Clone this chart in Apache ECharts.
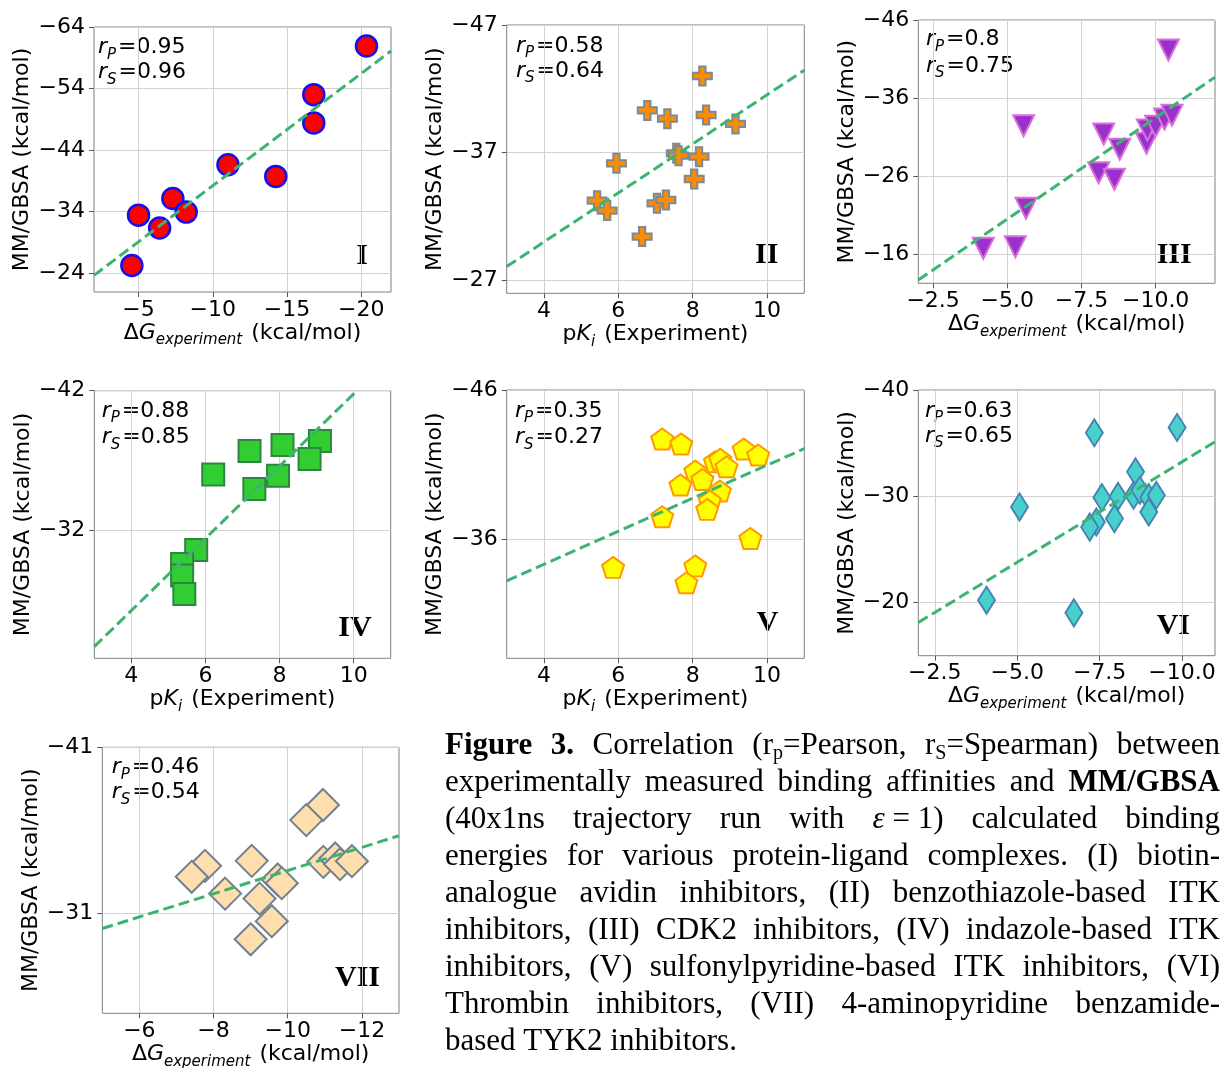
<!DOCTYPE html>
<html><head><meta charset="utf-8">
<script src="https://cdn.jsdelivr.net/npm/echarts@6/dist/echarts.min.js"></script>
<style>html,body{margin:0;padding:0;background:#fff}#c{width:1221px;height:1068px}</style>
</head><body><div id="c"></div>
<script>
// ================= DATA =================
const panelIds = ['I','II','III','IV','V','VI','VII'];
const corrP = ['0.95','0.58','0.8','0.88','0.35','0.63','0.46'];
const corrS = ['0.96','0.64','0.75','0.85','0.27','0.65','0.54'];

const xI = [-4.55, -5.0, -6.42, -7.31, -8.21, -11.02, -14.24, -16.8, -16.8, -20.35];
const yI = [-25.2, -33.4, -31.3, -36.1, -33.9, -41.6, -39.7, -53.0, -48.4, -60.9];
const fitXI = [-2, -22], fitYI = [-23.6, -60.1];
const xTicksI = [-5, -10, -15, -20], yTicksI = [-64, -54, -44, -34, -24];
const xRangeI = [-22, -2], yRangeI = [-64, -20.9];

const xII = [8.26, 6.78, 7.32, 8.36, 9.15, 7.56, 7.62, 8.17, 5.95, 8.04, 5.43, 5.70, 7.04, 7.28, 6.64];
const yII = [-43.0, -40.3, -39.65, -39.94, -39.24, -36.93, -36.75, -36.67, -36.15, -34.92, -33.22, -32.44, -33.01, -33.27, -30.4];
const fitXII = [3, 11], fitYII = [-28.05, -43.45];
const xTicksII = [4, 6, 8, 10], yTicksII = [-47, -37, -27];
const xRangeII = [3, 11], yRangeII = [-47, -25.95];

const xIII = [-10.43, -5.55, -8.25, -8.79, -9.69, -9.72, -10.0, -10.3, -10.55, -8.08, -8.61, -5.63, -4.19, -5.27];
const yIII = [-42.15, -32.45, -31.38, -29.42, -30.19, -31.9, -32.37, -33.3, -33.8, -26.42, -25.58, -21.85, -16.73, -16.94];
const fitXIII = [-2, -12], fitYIII = [-12.67, -38.67];
const xTicksIII = [-2.5, -5, -7.5, -10], yTicksIII = [-46, -36, -26, -16];
const xRangeIII = [-12, -2], yRangeIII = [-46, -12.24];

const xIV = [9.09, 8.81, 8.08, 7.19, 6.21, 7.96, 7.32, 5.75, 5.37, 5.37, 5.43];
const yIV = [-38.4, -37.12, -38.12, -37.69, -36.02, -35.93, -34.98, -30.62, -29.62, -28.79, -27.48];
const fitXIV = [3, 10.09], fitYIV = [-23.71, -42];
const xTicksIV = [4, 6, 8, 10], yTicksIV = [-42, -32];
const xRangeIV = [3, 11], yRangeIV = [-42, -22.88];

const xV = [7.18, 7.69, 9.37, 9.76, 8.60, 8.74, 8.91, 8.07, 8.26, 7.67, 8.73, 8.46, 8.39, 7.18, 9.55, 5.86, 8.07, 7.83];
const yV = [-42.71, -42.38, -42.04, -41.64, -41.19, -41.35, -40.85, -40.56, -40.0, -39.62, -39.22, -38.55, -37.99, -37.5, -36.04, -34.1, -34.2, -33.07];
const fitXV = [3, 11], fitYV = [-33.2, -42.06];
const xTicksV = [4, 6, 8, 10], yTicksV = [-46, -36];
const xRangeV = [3, 11], yRangeV = [-46, -28.0];

const xVI = [-7.34, -9.85, -8.59, -5.07, -7.57, -8.06, -8.53, -8.72, -8.99, -9.22, -8.99, -7.95, -7.4, -7.2, -4.07, -6.72];
const yVI = [-35.97, -36.48, -32.3, -29.0, -29.88, -30.0, -30.09, -30.57, -29.88, -30.09, -28.52, -27.9, -27.58, -27.1, -20.22, -19.03];
const fitXVI = [-2, -11], fitYVI = [-18.12, -35.13];
const xTicksVI = [-2.5, -5, -7.5, -10], yTicksVI = [-40, -30, -20];
const xRangeVI = [-11, -2], yRangeVI = [-40, -15];

const xVII = [-10.95, -10.5, -7.77, -7.41, -9.03, -8.31, -10.96, -11.28, -11.41, -11.73, -9.73, -9.84, -9.24, -9.57, -9.0];
const yVII = [-37.53, -36.62, -33.87, -33.21, -34.17, -32.2, -34.11, -34.31, -33.97, -34.15, -33.05, -32.83, -31.9, -30.54, -29.45];
const fitXVII = [-5, -13], fitYVII = [-30.1, -35.68];
const xTicksVII = [-6, -8, -10, -12], yTicksVII = [-41, -31];
const xRangeVII = [-13, -5], yRangeVII = [-41, -25];

const yTitle = 'MM/GBSA (kcal/mol)';
const xTitleDG = '{n|Δ}{i|G}{s|experiment}{n| (kcal/mol)}';
const xTitlePK = '{n|p}{i|K}{s|i}{n| (Experiment)}';

const captionLines = [
  '*Figure* *3.* Correlation (r_p_=Pearson, r_S_=Spearman) between',
  'experimentally measured binding affinities and *MM/GBSA*',
  '(40x1ns trajectory run with ~ε~\u00a0=\u00a01) calculated binding',
  'energies for various protein-ligand complexes. (I) biotin-',
  'analogue avidin inhibitors, (II) benzothiazole-based ITK',
  'inhibitors, (III) CDK2 inhibitors, (IV) indazole-based ITK',
  'inhibitors, (V) sulfonylpyridine-based ITK inhibitors, (VI)',
  'Thrombin inhibitors, (VII) 4-aminopyridine benzamide-',
  'based TYK2 inhibitors.'
];

const DATA = [
  {x:xI, y:yI, fx:fitXI, fy:fitYI, xt:xTicksI, yt:yTicksI, xr:xRangeI, yr:yRangeI, dec:0, xName:xTitleDG},
  {x:xII, y:yII, fx:fitXII, fy:fitYII, xt:xTicksII, yt:yTicksII, xr:xRangeII, yr:yRangeII, dec:0, xName:xTitlePK},
  {x:xIII, y:yIII, fx:fitXIII, fy:fitYIII, xt:xTicksIII, yt:yTicksIII, xr:xRangeIII, yr:yRangeIII, dec:1, xName:xTitleDG},
  {x:xIV, y:yIV, fx:fitXIV, fy:fitYIV, xt:xTicksIV, yt:yTicksIV, xr:xRangeIV, yr:yRangeIV, dec:0, xName:xTitlePK},
  {x:xV, y:yV, fx:fitXV, fy:fitYV, xt:xTicksV, yt:yTicksV, xr:xRangeV, yr:yRangeV, dec:0, xName:xTitlePK},
  {x:xVI, y:yVI, fx:fitXVI, fy:fitYVI, xt:xTicksVI, yt:yTicksVI, xr:xRangeVI, yr:yRangeVI, dec:1, xName:xTitleDG},
  {x:xVII, y:yVII, fx:fitXVII, fy:fitYVII, xt:xTicksVII, yt:yTicksVII, xr:xRangeVII, yr:yRangeVII, dec:0, xName:xTitleDG}
];

// ================= LAYOUT / STYLE =================
const LAYOUT = [
  {left:94,    top:27,    w:297,   h:265,   rx:98,    ry:[46.7, 71.7],  nx:368,    ny:256.7},
  {left:506.7, top:25,    w:297.6, h:268.3, rx:516,   ry:[45, 70],      nx:778.3,  ny:255},
  {left:918.3, top:20,    w:296.7, h:263.3, rx:926,   ry:[38.3, 65],    nx:1191.7, ny:255},
  {left:94.3,  top:390.7, w:296.4, h:267.6, rx:101.7, ry:[410, 436.7],  nx:371.7,  ny:628.3},
  {left:506.7, top:390,   w:297.6, h:268.3, rx:515,   ry:[410, 436.7],  nx:778.3,  ny:623.3},
  {left:918.3, top:390,   w:296.7, h:265.7, rx:925,   ry:[410, 435],    nx:1190,   ny:626.7},
  {left:102.3, top:747.3, w:296.7, h:266,   rx:111.7, ry:[766.7, 791.7],nx:380,    ny:978.3}
];
const MARKERS = [
  {symbol:'circle', size:21, rot:0, color:'#ff0000', border:'#1010ee', bw:2.5},
  {symbol:'path://M-1,-3H1V-1H3V1H1V3H-1V1H-3V-1H-1Z', size:19, rot:0, color:'#ff8c00', border:'#7a8a99', bw:2},
  {symbol:'triangle', size:[21,21], rot:180, color:'#9932cc', border:'#da70d6', bw:2},
  {symbol:'rect', size:22, rot:0, color:'#32cd32', border:'#2e8540', bw:2},
  {symbol:'path://M0,-1L0.951,-0.309L0.588,0.809L-0.588,0.809L-0.951,-0.309Z', size:[22,21], rot:0, color:'#ffff00', border:'#ff9900', bw:2},
  {symbol:'diamond', size:[17,27], rot:0, color:'#48d1cc', border:'#4682b4', bw:2},
  {symbol:'diamond', size:[32,32], rot:0, color:'#ffdead', border:'#708090', bw:2}
];
const FONT = 'DejaVu Sans';
const SERIF = 'Liberation Serif';
const RICH_DV = {
  n:{fontFamily:FONT, fontSize:22, lineHeight:30, color:'#000'},
  i:{fontFamily:FONT, fontSize:22, lineHeight:30, fontStyle:'italic', color:'#000'},
  s:{fontFamily:FONT, fontSize:15, lineHeight:17, fontStyle:'italic', verticalAlign:'bottom', color:'#000', padding:[0,2,0,0]}
};
const RICH_NUM = {
  r:{fontFamily:SERIF, fontSize:30, fontWeight:'bold', lineHeight:32, color:'#000'}
};
const CAP = {size:31, sub:20, left:445, width:775, base0:756, lh:37};
const RICH_CAP = {
  n:{fontFamily:SERIF, fontSize:CAP.size, lineHeight:37, color:'#000'},
  b:{fontFamily:SERIF, fontSize:CAP.size, lineHeight:37, fontWeight:'bold', color:'#000'},
  i:{fontFamily:SERIF, fontSize:CAP.size, lineHeight:37, fontStyle:'italic', color:'#000'},
  s:{fontFamily:SERIF, fontSize:CAP.sub, lineHeight:20, verticalAlign:'bottom', color:'#000'}
};

function fmt(dec){ return v => (v < 0 ? '\u2212' : '') + Math.abs(v).toFixed(dec); }

const grids = [], xAxes = [], yAxes = [], series = [], graphics = [];
DATA.forEach((d, k) => {
  const L = LAYOUT[k], M = MARKERS[k];
  const xInv = d.xt[0] > d.xt[d.xt.length - 1];
  const yInv = d.yt[0] < d.yt[d.yt.length - 1];
  grids.push({left:L.left, top:L.top, width:L.w, height:L.h, show:true, borderColor:'#808080', borderWidth:1,
    backgroundColor:'transparent', containLabel:false, outerBoundsMode:'none'});
  const common = {
    gridIndex:k, type:'value', axisLine:{show:false},
    splitLine:{show:true, lineStyle:{color:'#d2d2d2', width:1}}
  };
  xAxes.push(Object.assign({}, common, {
    min:d.xr[0], max:d.xr[1], inverse:xInv,
    axisTick:{show:true, length:5, inside:false, lineStyle:{color:'#555', width:1}, customValues:d.xt},
    axisLabel:{customValues:d.xt, formatter:fmt(d.dec), fontSize:22, fontFamily:FONT, color:'#000', margin:7},
    name:d.xName, nameLocation:'middle', nameGap:26,
    nameTextStyle:{rich:RICH_DV, fontFamily:FONT, fontSize:22, color:'#000'}
  }));
  yAxes.push(Object.assign({}, common, {
    min:d.yr[0], max:d.yr[1], inverse:yInv,
    axisTick:{show:true, length:5, inside:false, lineStyle:{color:'#555', width:1}, customValues:d.yt},
    axisLabel:{customValues:d.yt, formatter:fmt(0), fontSize:22, fontFamily:FONT, color:'#000', margin:9},
    name:yTitle, nameLocation:'middle', nameGap:57,
    nameTextStyle:{fontFamily:FONT, fontSize:22, lineHeight:24, color:'#000'}
  }));
  series.push({
    type:'scatter', xAxisIndex:k, yAxisIndex:k, silent:true, z:2,
    data:d.x.map((v, j) => [v, d.y[j]]),
    symbol:M.symbol, symbolSize:M.size, symbolRotate:M.rot, symbolKeepAspect:false,
    itemStyle:{color:M.color, borderColor:M.border, borderWidth:M.bw, opacity:1}
  });
  series.push({
    type:'line', xAxisIndex:k, yAxisIndex:k, silent:true, z:3, clip:true,
    data:[[d.fx[0], d.fy[0]], [d.fx[1], d.fy[1]]],
    symbol:'none', showSymbol:false,
    lineStyle:{color:'#3cb371', width:3, type:[11, 5]}
  });
  // correlation annotations
  [['P', corrP[k]], ['S', corrS[k]]].forEach((p, j) => {
    graphics.push({type:'text', x:L.rx, y:L.ry[j] + 1, silent:true,
      style:{text:'{i|r}{s|' + p[0] + '}{n|=' + p[1] + '}', rich:RICH_DV,
        align:'left', verticalAlign:'middle', textAlign:'left', textVerticalAlign:'middle'}});
  });
  // panel numeral
  graphics.push({type:'text', x:L.nx, y:L.ny, silent:true,
    style:{text:'{r|' + panelIds[k] + '}', rich:RICH_NUM,
      align:'right', verticalAlign:'middle', textAlign:'right', textVerticalAlign:'middle'}});
});

// ================= CAPTION (justified) =================
const mctx = document.createElement('canvas').getContext('2d');
function capFont(st){
  const base = CAP.size + 'px "' + SERIF + '"';
  if (st === 'b') return 'bold ' + base;
  if (st === 'i') return 'italic ' + base;
  if (st === 's') return CAP.sub + 'px "' + SERIF + '"';
  return base;
}
function parseWord(w){
  const re = /\*([^*]+)\*|_([^_]+)_|~([^~]+)~|([^*_~]+)/g; let m; const segs = [];
  while ((m = re.exec(w))) {
    if (m[1]) segs.push(['b', m[1]]); else if (m[2]) segs.push(['s', m[2]]);
    else if (m[3]) segs.push(['i', m[3]]); else segs.push(['n', m[4]]);
  }
  return segs;
}
function segWidth(segs){
  return segs.reduce((a, s) => { mctx.font = capFont(s[0]); return a + mctx.measureText(s[1]).width; }, 0);
}
mctx.font = capFont('n');
const spaceW = mctx.measureText(' ').width;
captionLines.forEach((line, li) => {
  const words = line.split(' ').map(parseWord);
  const widths = words.map(segWidth);
  const total = widths.reduce((a, b) => a + b, 0);
  const last = li === captionLines.length - 1;
  const gap = (!last && words.length > 1) ? (CAP.width - total) / (words.length - 1) : spaceW;
  let x = CAP.left;
  const yMid = CAP.base0 + li * CAP.lh - 10.5;
  words.forEach((segs, wi) => {
    graphics.push({type:'text', x:x, y:yMid, silent:true,
      style:{text:segs.map(s => '{' + s[0] + '|' + s[1] + '}').join(''), rich:RICH_CAP,
        align:'left', verticalAlign:'middle', textAlign:'left', textVerticalAlign:'middle'}});
    x += widths[wi] + gap;
  });
});

const chart = echarts.init(document.getElementById('c'), null, {renderer:'canvas'});
chart.setOption({
  backgroundColor:'#ffffff',
  animation:false,
  grid:grids, xAxis:xAxes, yAxis:yAxes, series:series,
  graphic:{elements:graphics}
});
</script>
</body></html>
